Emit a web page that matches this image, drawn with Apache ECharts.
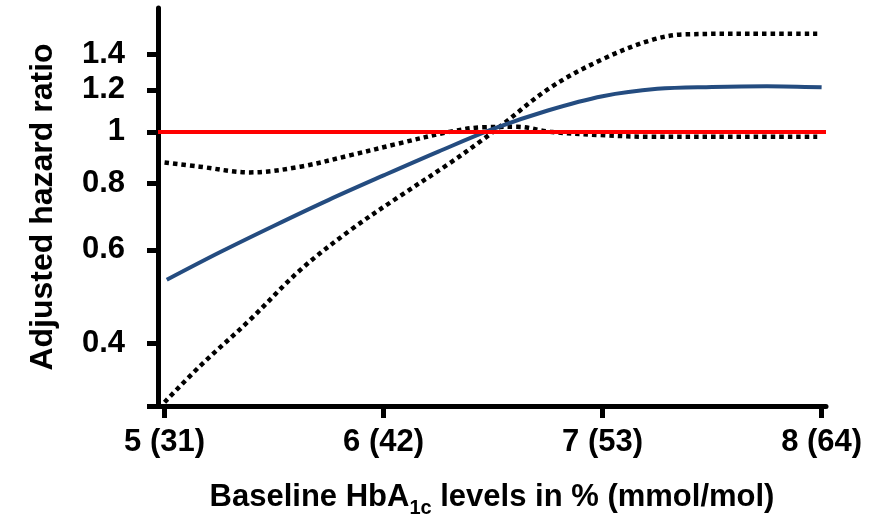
<!DOCTYPE html>
<html>
<head>
<meta charset="utf-8">
<script src="https://cdn.jsdelivr.net/npm/echarts@6/dist/echarts.min.js"></script>
<style>
  html, body { margin: 0; padding: 0; background: #fff; }
  #chart { width: 882px; height: 515px; }
</style>
</head>
<body>
<div id="chart"></div>
<script>
// HbA1c (%) positions and tick labels
const xTicks = [5, 6, 7, 8];
const xTickLabels = ['5 (31)', '6 (42)', '7 (53)', '8 (64)'];
const yTicks = [0.4, 0.6, 0.8, 1, 1.2, 1.4];

// Adjusted hazard ratio curve
const hrX = [5.01, 5.25, 5.5, 5.75, 6.0, 6.25, 6.5, 6.75, 7.0, 7.25, 7.5, 7.75, 8.0];
const hrY = [0.527, 0.593, 0.666, 0.745, 0.828, 0.918, 1.013, 1.097, 1.167, 1.205, 1.215, 1.219, 1.213];

// Upper 95% confidence bound
const upperX = [5.0, 5.16, 5.39, 5.62, 5.85, 6.07, 6.3, 6.45, 6.61, 6.76, 6.99, 7.22, 7.52, 7.98];
const upperY = [0.876, 0.86, 0.839, 0.86, 0.904, 0.951, 1.0, 1.02, 1.022, 1.0, 0.986, 0.979, 0.979, 0.979];

// Lower 95% confidence bound
const lowerX = [5.0, 5.16, 5.39, 5.62, 5.85, 6.07, 6.3, 6.45, 6.53, 6.76, 6.99, 7.22, 7.37, 7.67, 7.98];
const lowerY = [0.31, 0.362, 0.443, 0.55, 0.654, 0.755, 0.872, 0.965, 1.022, 1.21, 1.364, 1.487, 1.525, 1.53, 1.53];

// Reference line (HR = 1)
const refY = 1;

const FONT = "'Liberation Sans', Arial, sans-serif";
const zip = (xs, ys) => xs.map((x, i) => [x, ys[i]]);
const dotted = { color: '#000', width: 4.5, type: [4.5, 4], cap: 'butt' };

const chart = echarts.init(document.getElementById('chart'));
chart.setOption({
  animation: false,
  grid: { left: 158, right: 56, top: 8, bottom: 109, containLabel: false, outerBoundsMode: 'none' },
  xAxis: {
    type: 'value',
    min: 4.97,
    max: 8.02,
    splitLine: { show: false },
    axisLine: { lineStyle: { color: '#000', width: 5 } },
    axisTick: { customValues: xTicks, length: 12, lineStyle: { color: '#000', width: 5 } },
    axisLabel: {
      customValues: xTicks,
      margin: 21,
      color: '#000',
      fontFamily: FONT,
      fontWeight: 'bold',
      fontSize: 31,
      formatter: v => xTickLabels[xTicks.indexOf(Math.round(v))]
    },
    name: 'Baseline HbA{sub|1c} levels in % (mmol/mol)',
    nameLocation: 'middle',
    nameGap: 70,
    nameTextStyle: {
      color: '#000',
      fontFamily: FONT,
      fontWeight: 'bold',
      fontSize: 31,
      lineHeight: 42,
      rich: {
        sub: { fontFamily: FONT, fontWeight: 'bold', fontSize: 20, color: '#000', verticalAlign: 'bottom', lineHeight: 42 }
      }
    }
  },
  yAxis: {
    type: 'log',
    logBase: 10,
    min: 0.305,
    max: 1.71,
    splitLine: { show: false },
    axisLine: { lineStyle: { color: '#000', width: 5 } },
    axisTick: { customValues: [0.305].concat(yTicks), length: 11, lineStyle: { color: '#000', width: 5 } },
    axisLabel: {
      customValues: yTicks,
      margin: 33,
      color: '#000',
      fontFamily: FONT,
      fontWeight: 'bold',
      fontSize: 31,
      formatter: v => String(Math.round(v * 10) / 10)
    },
    name: 'Adjusted hazard ratio',
    nameLocation: 'middle',
    nameGap: 99,
    nameTextStyle: {
      color: '#000',
      fontFamily: FONT,
      fontWeight: 'bold',
      fontSize: 32
    }
  },
  series: [
    {
      type: 'line',
      data: zip(lowerX, lowerY),
      smooth: 0.35,
      showSymbol: false,
      lineStyle: dotted,
      z: 2
    },
    {
      type: 'line',
      data: zip(upperX, upperY),
      smooth: 0.35,
      showSymbol: false,
      lineStyle: dotted,
      z: 2
    },
    {
      type: 'line',
      data: [],
      markLine: {
        silent: true,
        symbol: 'none',
        label: { show: false },
        lineStyle: { color: '#ff0000', width: 4, type: 'solid' },
        data: [{ yAxis: refY }]
      },
      z: 3
    },
    {
      type: 'line',
      data: zip(hrX, hrY),
      smooth: 0.35,
      showSymbol: false,
      lineStyle: { color: '#244c80', width: 4 },
      z: 4
    }
  ]
});
</script>
</body>
</html>
